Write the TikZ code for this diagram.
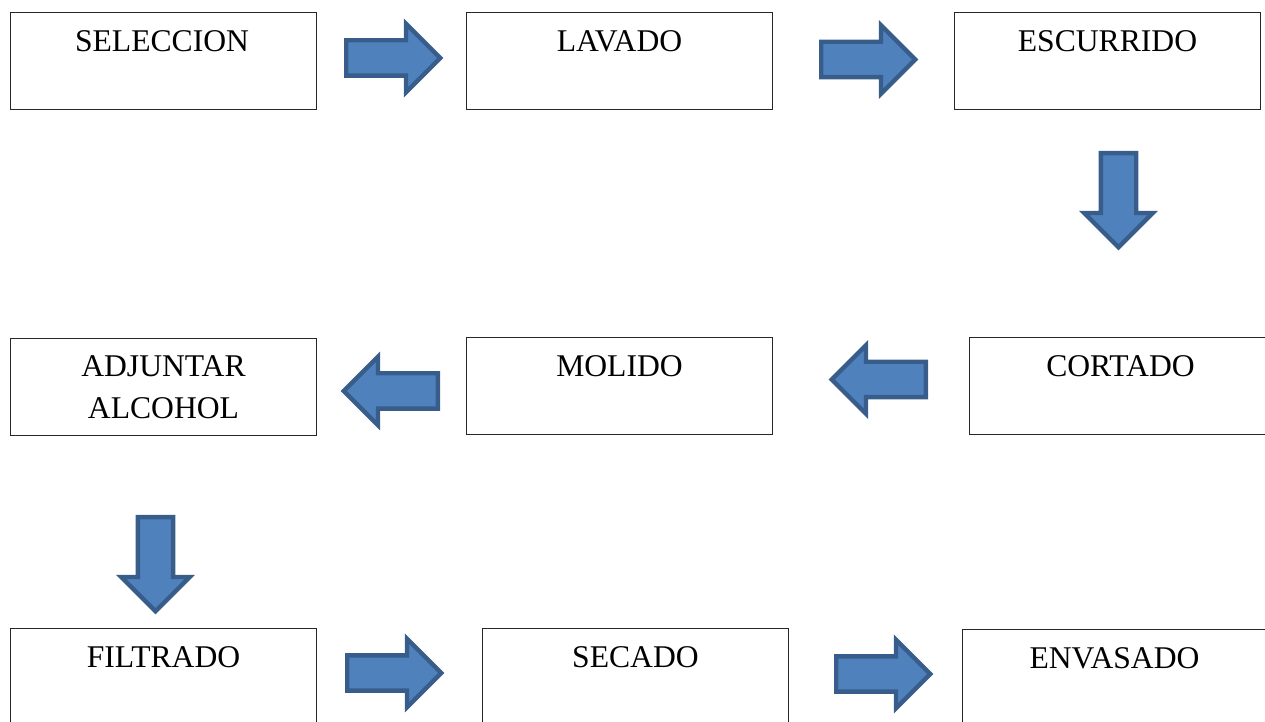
\documentclass[tikz,border=0pt]{standalone}
\usepackage{fontspec}
\setmainfont{Liberation Serif}
\usetikzlibrary{shapes.arrows}
\definecolor{arrfill}{HTML}{4F81BD}
\definecolor{arrline}{HTML}{385D8A}

\begin{document}
\begin{tikzpicture}[x=0.02cm,y=-0.02cm,
  box/.style={draw=black!85,line width=0.75pt,minimum width=6.12cm,minimum height=1.94cm,inner sep=0},
  lbl/.style={font=\fontsize{18}{24}\selectfont,inner sep=0,anchor=base,align=center},
  arr/.style={single arrow,draw=arrline,fill=arrfill,line width=2.5pt,minimum height=1.88cm,
    minimum width=1.28cm,single arrow head extend=0.33cm,inner sep=0.31cm,anchor=tail}]
\useasboundingbox (0,0) rectangle (1265,722);
\clip (0,0) rectangle (1265,722);
% first row
\node[box] (sel) at (163.5,61) {};
\node[lbl] (selT) at (162,52) {SELECCION};
\node[arr] (a1) at (344,58) {};
\node[box] (lav) at (619.5,61) {};
\node[lbl] (lavT) at (619.5,52) {LAVADO};
\node[arr] (a2) at (819,59.5) {};
\node[box] (esc) at (1107.5,61) {};
\node[lbl] (escT) at (1107.5,52) {ESCURRIDO};
\node[arr,shape border rotate=270] (a3) at (1118.5,151) {};
% second row
\node[box] (cor) at (1122.5,386) {};
\node[lbl] (corT) at (1120.5,377) {CORTADO};
\node[arr,shape border rotate=180] (a4) at (928,379.5) {};
\node[box] (mol) at (619.5,386) {};
\node[lbl] (molT) at (619.5,377) {MOLIDO};
\node[arr,shape border rotate=180] (a5) at (440,391) {};
\node[box] (adj) at (163.5,387) {};
\node[lbl,anchor=north] (adjT) at (163.5,355) {ADJUNTAR\\ALCOHOL};
\node[arr,shape border rotate=270] (a6) at (155.5,515) {};
% third row
\node[box] (fil) at (163.5,677) {};
\node[lbl] (filT) at (163.5,668) {FILTRADO};
\node[arr] (a7) at (345,673) {};
\node[box] (sec) at (635.5,677) {};
\node[lbl] (secT) at (635.5,668) {SECADO};
\node[arr] (a8) at (834,674) {};
\node[box] (env) at (1115.5,678) {};
\node[lbl] (envT) at (1114.5,669) {ENVASADO};
\end{tikzpicture}
\end{document}
